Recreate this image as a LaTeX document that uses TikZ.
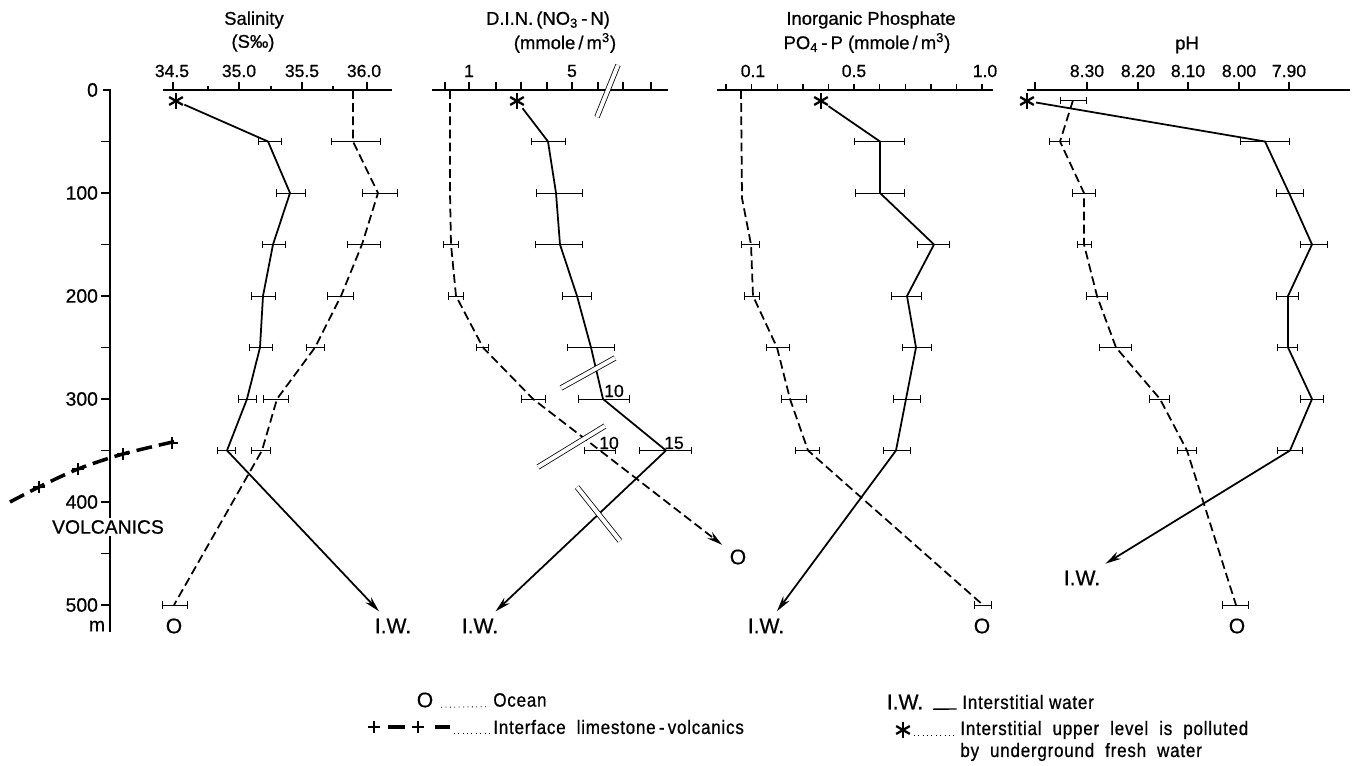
\documentclass[tikz,border=0pt]{standalone}
\usepackage{fontspec}
\setmainfont{Liberation Sans}[FakeBold=0.7]
\newfontfamily\schmal[FakeStretch=0.88,LetterSpace=4,FakeBold=0.7]{Liberation Sans}
\usetikzlibrary{arrows.meta}

\tikzset{
    achse/.style={line width=0.8pt},
    iw/.style={line width=1pt},
    ozean/.style={line width=1pt, dash pattern=on 5pt off 2.5pt},
    fehler/.style={line width=0.5pt, {Bar[width=4pt]}-{Bar[width=4pt]}},
    pfeil/.style={-{Stealth[length=9pt,width=4.5pt]}, shorten >=1pt},
    bruch/.style={line width=0.45pt, double, double distance=2.2pt},
    grenze/.style={line width=2pt, dash pattern=on 9pt off 4pt},
    kreuz/.style={line width=1.6pt},
    punkte/.style={line width=0.5pt, dotted, shorten <=1pt, shorten >=2pt},
    stern/.style={circle, inner sep=0pt, minimum size=10pt},
    titel/.style={font=\fontsize{10.5}{12}\selectfont},
    zahl/.style={font=\fontsize{10}{12}\selectfont},
    tiefe/.style={font=\fontsize{11}{13}\selectfont, anchor=east, inner sep=1pt},
    ende/.style={font=\fontsize{12}{14}\selectfont},
    legende/.style={font=\schmal\fontsize{11}{13}\selectfont, anchor=west, inner sep=0pt},
}

\begin{document}
\begin{tikzpicture}[x=0.02cm, y=-0.02cm]
    \useasboundingbox (0,0) rectangle (1357,766);

    % Ueberschriften
    \node[titel] (t1) at (254,20) {Salinity};
    \node[titel] (t1b) at (253,43) {(S‰)};
    \node[titel] (t2) at (548,20) {D.I.N.\,(NO\textsubscript{3}\,-\,N)};
    \node[titel] (t2b) at (565,43) {(mmole\,/\,m\textsuperscript{3})};
    \node[titel] (t3) at (871,20) {Inorganic Phosphate};
    \node[titel] (t3b) at (867,43) {PO\textsubscript{4}\,-\,P (mmole\,/\,m\textsuperscript{3})};
    \node[titel] (t4) at (1187,45) {pH};

    % Achsen oben
    \draw[achse] (163,90) -- (392,90);
    \draw[achse] (432,90) -- (668,90);
    \draw[achse] (717,90) -- (993,90);
    \draw[achse] (1027,90) -- (1350,90);
    \foreach \x in {173,239,302,367,445,469,496,521,547,572,598,623,651,1035,1087,1138,1188,1239,1289}
        \draw[achse] (\x,90) -- (\x,82);
    \foreach \x in {208,271,333}
        \draw[achse] (\x,90) -- (\x,86);
    \foreach \i in {0,...,10}
        \draw[achse] ({726+25.6*\i},90) -- ({726+25.6*\i},84);
    \draw[bruch] (597,117) -- (618,65);

    % Skalenwerte
    \foreach \x/\t [count=\n] in {172/34.5, 239/35.0, 302/35.5, 364/36.0, 469/1, 572/5,
            753/0.1, 854/0.5, 985/1.0, 1087/8.30, 1138/8.20, 1188/8.10, 1239/8.00, 1289/7.90}
        \node[zahl] (sk\n) at (\x,71) {\t};

    % Sterne: oberste Probe
    \node[stern] (s1) at (176,101) {};
    \node[stern] (s2) at (517,101) {};
    \node[stern] (s3) at (821,101) {};
    \node[stern] (s4) at (1027,101) {};
    \node[stern] (sl) at (903,730) {};
    \foreach \s in {s1,s2,s3,s4,sl} {
        \foreach \w in {90,30,-30} {
            \draw[line width=1.3pt] (\s.center) ++(\w:4.5pt) -- ++(\w+180:9pt);
        }
    }

    % Endbeschriftungen
    \node[ende] (so) at (174,626) {O};
    \node[ende] (siw) at (393,626) {I.W.};
    \node[ende] (diw) at (480,626) {I.W.};
    \node[ende] (dino) at (738,557) {O};
    \node[ende] (piw) at (766,626) {I.W.};
    \node[ende] (po) at (982,626) {O};
    \node[ende] (hiw) at (1082,578) {I.W.};
    \node[ende] (ho) at (1237,626) {O};

    % Tiefe in m
    \begin{scope}[shift={(0,90)}, yscale=1.03]
        \draw[achse] (103,0) -- (110,0) -- (110,526);
        \foreach \d in {50,100,...,500}
            \draw[achse] (101,\d) -- (110,\d);
        \foreach \d in {0,100,...,500}
            \node[tiefe] (d\d) at (100,\d) {\d};

        % Salinitaet
        \draw[iw, pfeil] (s1) -- (268,50) -- (290,100) -- (273,150) -- (263,200) -- (260,250)
            -- (247,300) -- (227,350) -- (siw);
        \draw[ozean] (353,0) -- (353,50) -- (378,100) -- (362,150) -- (341,200) -- (315,250)
            -- (277,300) -- (262,350) -- (174,500);
        \foreach \d/\a/\b in {50/258/282, 100/276/306, 150/262/286, 200/251/276, 250/249/273,
                300/238/257, 350/217/236, 50/331/381, 100/362/398, 150/347/381, 200/327/354,
                250/306/325, 300/263/289, 350/251/271, 500/162/188}
            \draw[fehler] (\a,\d) -- (\b,\d);

        % Nitrat
        \draw[iw, pfeil] (s2) -- (548,50) -- (556,100) -- (560,150) -- (577,200) -- (591,250)
            -- (603,300) -- (666,350) -- (diw);
        \draw[ozean, pfeil] (450,0) -- (450,100) -- (451,150) -- (456,200) -- (483,250)
            -- (533,300) -- (600,350) -- (dino);
        \foreach \d/\a/\b in {50/531/566, 100/536/583, 150/535/583, 200/562/592, 250/567/615,
                300/578/630, 350/639/692, 150/443/459, 200/448/464, 250/476/489, 300/521/546,
                350/584/616}
            \draw[fehler] (\a,\d) -- (\b,\d);

        % Phosphat
        \draw[iw, pfeil] (s3) -- (880,50) -- (880,100) -- (934,150) -- (907,200) -- (916,250)
            -- (906,300) -- (896,350) -- (piw);
        \draw[ozean] (741,0) -- (742,105) -- (751,150) -- (753,200) -- (777,250) -- (790,300)
            -- (808,350) -- (983,500);
        \foreach \d/\a/\b in {50/854/905, 100/855/905, 150/917/950, 200/891/922, 250/902/932,
                300/893/921, 350/883/911, 150/741/760, 200/744/760, 250/766/790, 300/781/807,
                350/795/820, 500/974/992}
            \draw[fehler] (\a,\d) -- (\b,\d);

        % pH
        \draw[iw, pfeil] (s4) -- (1265,50) -- (1289,100) -- (1312,150) -- (1288,200) -- (1288,250)
            -- (1312,300) -- (1290,350) -- (hiw);
        \draw[ozean] (1073,10) -- (1060,50) -- (1084,100) -- (1084,150) -- (1097,200) -- (1116,250)
            -- (1160,300) -- (1187,350) -- (1236,500);
        \foreach \d/\a/\b in {50/1240/1290, 100/1276/1304, 150/1300/1328, 200/1276/1299,
                250/1277/1298, 300/1300/1324, 350/1277/1303, 10/1060/1087, 50/1049/1070,
                100/1072/1096, 150/1077/1092, 200/1086/1108, 250/1099/1132, 300/1149/1170,
                350/1177/1197, 500/1222/1249}
            \draw[fehler] (\a,\d) -- (\b,\d);
    \end{scope}

    % Unterbrechungen
    \draw[bruch] (561,388) -- (615,358);
    \draw[bruch] (538,467) -- (605,426);
    \draw[bruch] (577,487) -- (620,541);
    \node[zahl] (z10a) at (614,391) {10};
    \node[zahl] (z10b) at (609,443) {10};
    \node[zahl] (z15) at (674,443) {15};

    % Grenze Kalk - Vulkanit
    \draw[grenze] plot[smooth] coordinates {(10,502) (39,487) (78,469) (123,454) (177,441)};
    \foreach \x/\y in {39/487, 78/469, 123/454, 172/443}
        \draw[kreuz] (\x,\y-6) -- (\x,\y+6) (\x-6,\y) -- (\x+6,\y);
    \node[tiefe, anchor=center, fill=white] (vulk) at (108,527) {VOLCANICS};
    \node[tiefe, anchor=center] (einh) at (97,626) {m};

    % Legende links
    \node[ende] (lo) at (425,700) {O};
    \node[legende] (locean) at (493,700) {Ocean};
    \draw[punkte] (lo.base east) -- (locean.base west);
    \foreach \x in {374,418}
        \draw[kreuz] (\x,721) -- (\x,733) (\x-6,727) -- (\x+6,727);
    \draw[line width=2pt] (388,727) -- (405,727) (435,727) -- (450,727);
    \coordinate (lsym) at (452,727);
    \node[legende] (lgrenze) at (493,727) {Interface\ \ limestone\,-\,volcanics};
    \draw[punkte] (lsym |- lgrenze.base) -- (lgrenze.base west);

    % Legende rechts
    \node[ende] (liw) at (905,702) {I.W.};
    \node[legende] (liwtext) at (962,702) {Interstitial water};
    \draw[line width=0.8pt, shorten <=2pt, shorten >=3pt] (liw.base east) -- (liwtext.base west);
    \node[legende] (lstern) at (960,730) {Interstitial\ \ upper\ \ level\ \ is\ \ polluted};
    \node[legende] (lstern2) at (960,752) {by\ \ underground\ \ fresh\ \ water};
    \draw[punkte] (sl.east |- lstern.base) -- (lstern.base west);
\end{tikzpicture}
\end{document}
